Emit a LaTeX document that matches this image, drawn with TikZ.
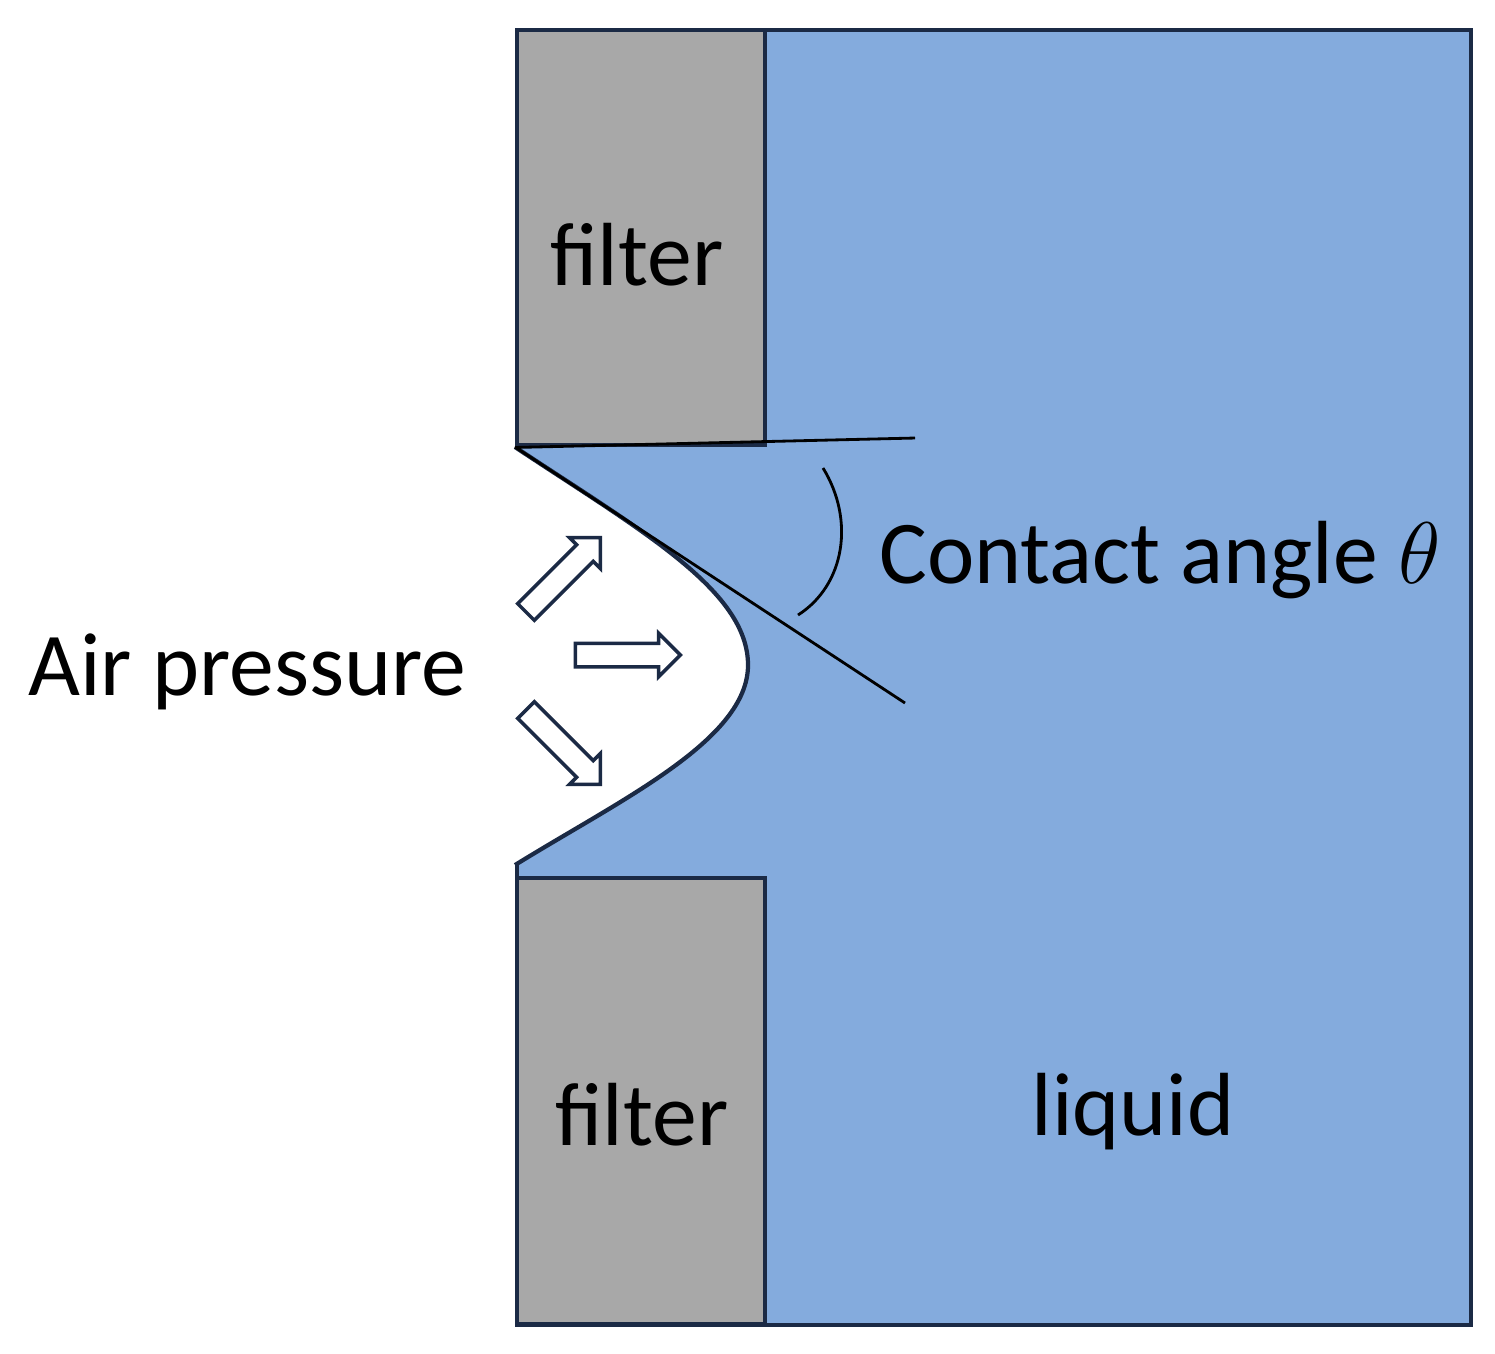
\documentclass[tikz,border=0pt]{standalone}
\usepackage{fontspec}
\setmainfont{Carlito}
\usetikzlibrary{shapes.arrows}
\definecolor{liq}{HTML}{84ABDD}
\definecolor{filt}{HTML}{A8A8A8}
\definecolor{edge}{HTML}{1B2A45}
\begin{document}
\begin{tikzpicture}[x=0.01cm,y=-0.01cm,
    block/.style={draw=edge, line width=1.2pt},
    label/.style={font=\fontsize{25.5}{30}\selectfont},
    push/.style={single arrow, draw=edge, fill=white, line width=1pt,
      minimum height=1.05cm, inner sep=0.1cm, single arrow head extend=0.1cm}]
  \useasboundingbox (0,0) rectangle (1495,1353);

  \node[block, fill=liq, minimum width=9.53cm, minimum height=12.94cm, anchor=north west, inner sep=0pt] (liquidbox) at (515,28) {};
  \node[block, fill=filt, minimum width=2.48cm, minimum height=4.15cm, anchor=north west, inner sep=0pt] (topfilter) at (515,28) {};
  \node[block, fill=filt, minimum width=2.48cm, minimum height=4.46cm, anchor=north west, inner sep=0pt] (botfilter) at (515,876) {};

  % meniscus
  \coordinate (m1) at (515,447);
  \coordinate (m2) at (515,865);
  \fill[white] (m1) .. controls (640,530) and (748,590) .. (748,665)
    .. controls (748,740) and (620,800) .. (m2) -- cycle;
  \draw[edge, line width=1.2pt] (m1) .. controls (640,530) and (748,590) .. (748,665)
    .. controls (748,740) and (620,800) .. (m2);

  \coordinate (hEnd) at (915,438);
  \coordinate (tEnd) at (905,703);
  \draw[black, line width=0.8pt] (topfilter.south west) -- (hEnd);
  \draw[black, line width=0.8pt] (m1) -- (tEnd);
  \draw[black, line width=0.8pt] (823,468) .. controls (855,520) and (845,585) .. (798,615);

  \node[push, rotate=45] (a1) at (559,579) {};
  \node[push] (a2) at (622,655) {};
  \node[push, rotate=-45] (a3) at (559,743) {};

  \node[label] (ftop) at (637,255) {filter};
  \node[label] (fbot) at (642,1115) {filter};
  \node[label] (liq) at (1133,1112) {liquid};
  \node[label] (air) at (247,672) {Air pressure};
  \node[label] (ang) at (1160,560) {Contact angle $\theta$};
\end{tikzpicture}
\end{document}
